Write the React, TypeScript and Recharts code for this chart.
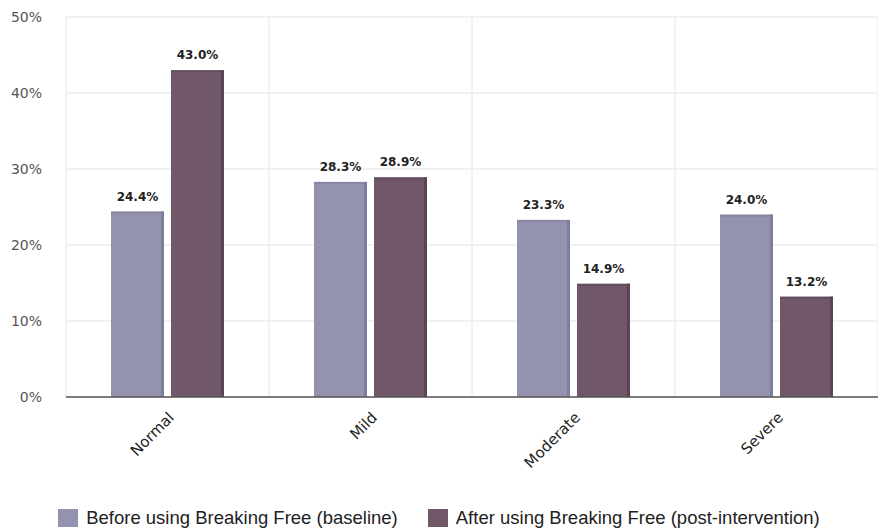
import React from "react";
import {
  BarChart,
  Bar,
  XAxis,
  YAxis,
  CartesianGrid,
  Legend,
  LabelList,
} from "recharts";

const categories = ["Normal", "Mild", "Moderate", "Severe"];
const beforeValues = [24.4, 28.3, 23.3, 24.0];
const afterValues = [43.0, 28.9, 14.9, 13.2];
const yTicks = [0, 10, 20, 30, 40, 50];

const seriesNames = [
  "Before using Breaking Free (baseline)",
  "After using Breaking Free (post-intervention)",
];
const colors = ["#9393b0", "#705869"];
const sideColors = ["#7d7d9c", "#5a4555"];

const data = categories.map((c, i) => ({
  name: c,
  before: beforeValues[i],
  after: afterValues[i],
}));

const makeShape = (idx: number) => (props: any) => {
  const { x, y, width, height } = props;
  if (height == null || height <= 0) return null;
  const d = 3;
  return (
    <g>
      <rect x={x} y={y} width={width} height={height} fill={colors[idx]} />
      <rect x={x + width - d} y={y} width={d} height={height} fill={sideColors[idx]} />
      <rect x={x} y={y} width={width} height={2} fill={sideColors[idx]} opacity={0.6} />
    </g>
  );
};

const renderLegend = () => (
  <div
    style={{
      display: "flex",
      justifyContent: "center",
      alignItems: "center",
      fontFamily: "'Liberation Sans Narrow', 'Liberation Sans', sans-serif",
      fontSize: 18.5,
      color: "#222",
      gap: 30,
    }}
  >
    {seriesNames.map((n, i) => (
      <div key={n} style={{ display: "flex", alignItems: "center" }}>
        <span
          style={{
            display: "inline-block",
            width: 20,
            height: 18,
            background: colors[i],
            marginRight: 8,
          }}
        />
        <span>{n}</span>
      </div>
    ))}
  </div>
);

const fmt = (v: number) => `${v.toFixed(1)}%`;

const verticalGen = ({ offset }: any) => {
  const n = categories.length;
  const out: number[] = [];
  for (let i = 0; i <= n; i++) out.push(offset.left + (offset.width * i) / n);
  return out;
};

export default function App() {
  return (
    <div style={{ position: "absolute", left: 0, top: 0 }}>
      <BarChart
        width={878}
        height={529}
        data={data}
        margin={{ top: 17, right: 0, bottom: 0, left: 0 }}
        barSize={53}
        barGap={7}
      >
        <CartesianGrid stroke="#e4e4e4" verticalCoordinatesGenerator={verticalGen} />
        <XAxis
          dataKey="name"
          tickLine={false}
          axisLine={{ stroke: "#555", strokeWidth: 1.5 }}
          angle={-45}
          textAnchor="end"
          height={110}
          tickMargin={8}
          interval={0}
          tick={{ fill: "#222", fontSize: 15, fontFamily: "'DejaVu Sans', sans-serif" }}
        />
        <YAxis
          domain={[0, 50]}
          ticks={yTicks}
          tickFormatter={(v) => `${v}%`}
          width={66}
          tickLine={false}
          axisLine={false}
          tickSize={0}
          tickMargin={24}
          tick={{ fill: "#555", fontSize: 14, fontFamily: "'DejaVu Sans', sans-serif" }}
        />
        <Legend verticalAlign="bottom" height={22} content={renderLegend} />
        <Bar
          dataKey="before"
          name={seriesNames[0]}
          fill={colors[0]}
          shape={makeShape(0)}
          isAnimationActive={false}
        >
          <LabelList
            dataKey="before"
            position="top"
            offset={11}
            formatter={fmt}
            style={{ fill: "#222", fontSize: 12, fontWeight: "bold", fontFamily: "'DejaVu Sans', sans-serif" }}
          />
        </Bar>
        <Bar
          dataKey="after"
          name={seriesNames[1]}
          fill={colors[1]}
          shape={makeShape(1)}
          isAnimationActive={false}
        >
          <LabelList
            dataKey="after"
            position="top"
            offset={11}
            formatter={fmt}
            style={{ fill: "#222", fontSize: 12, fontWeight: "bold", fontFamily: "'DejaVu Sans', sans-serif" }}
          />
        </Bar>
      </BarChart>
    </div>
  );
}
